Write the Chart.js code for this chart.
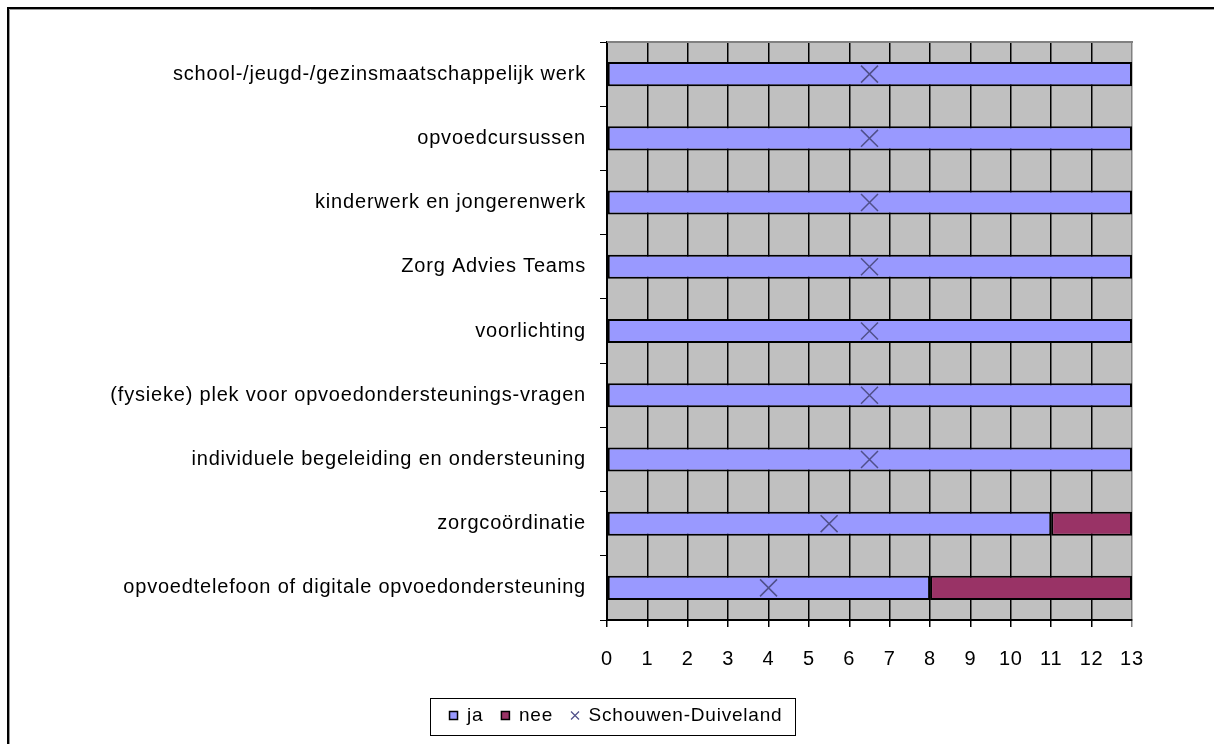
<!DOCTYPE html>
<html>
<head>
<meta charset="utf-8">
<script src="https://cdn.jsdelivr.net/npm/chart.js@4/dist/chart.umd.min.js"></script>
<style>
  html, body { margin: 0; padding: 0; background: #fff; }
  #wrap { width: 1214px; height: 744px; }
</style>
</head>
<body>
<div id="wrap"><canvas id="myChart" width="1214" height="744"></canvas></div>
<script>
// categorieën (van boven naar beneden)
const categories = [
  'school-/jeugd-/gezinsmaatschappelijk werk',
  'opvoedcursussen',
  'kinderwerk en jongerenwerk',
  'Zorg Advies Teams',
  'voorlichting',
  '(fysieke) plek voor opvoedondersteunings-vragen',
  'individuele begeleiding en ondersteuning',
  'zorgcoördinatie',
  'opvoedtelefoon of digitale opvoedondersteuning'
];
const jaValues = [13, 13, 13, 13, 13, 13, 13, 11, 8];
const neeValues = [0, 0, 0, 0, 0, 0, 0, 2, 5];
const schouwenValues = [6.5, 6.5, 6.5, 6.5, 6.5, 6.5, 6.5, 5.5, 4];
const xTickLabels = ['0','1','2','3','4','5','6','7','8','9','10','11','12','13'];

const FONT = "'Liberation Sans', Arial, sans-serif";
const MARKER = '#50508a';

// letter spacing zoals in het origineel (Excel rendering)
const spacingPlugin = {
  id: 'spacing',
  beforeUpdate(chart) { chart.ctx.letterSpacing = '0.8px'; },
  beforeDraw(chart) { chart.ctx.letterSpacing = '0.8px'; }
};

// grijze achtergrond van het plotgebied + kaders
const framePlugin = {
  id: 'frame',
  beforeDraw(chart) {
    const { ctx, chartArea: a } = chart;
    ctx.save();
    ctx.fillStyle = '#C0C0C0';
    ctx.fillRect(a.left, a.top, a.right - a.left, a.bottom - a.top);
    ctx.restore();
  },
  afterDraw(chart) {
    const { ctx, chartArea: a, legend } = chart;
    ctx.save();
    // bovenrand plotgebied
    ctx.strokeStyle = '#808080';
    ctx.lineWidth = 2;
    ctx.beginPath();
    ctx.moveTo(a.left, a.top);
    ctx.lineTo(a.right + 1, a.top);
    ctx.stroke();
    // kader legenda
    const boxes = legend.legendHitBoxes;
    if (boxes && boxes.length) {
      const first = boxes[0], last = boxes[boxes.length - 1];
      const cy = first.top + first.height / 2;
      ctx.strokeStyle = '#000';
      ctx.lineWidth = 1;
      ctx.strokeRect(Math.round(first.left - 20) + 0.5, Math.round(cy - 18) + 0.5,
        Math.round(last.left + last.width - first.left + 32), 37);
    }
    // buitenkader
    ctx.strokeStyle = '#000';
    ctx.lineWidth = 2;
    ctx.beginPath();
    ctx.moveTo(8, 744);
    ctx.lineTo(8, 8);
    ctx.lineTo(1214, 8);
    ctx.stroke();
    ctx.strokeStyle = '#999';
    ctx.lineWidth = 1;
    ctx.beginPath();
    ctx.moveTo(9.5, 744);
    ctx.lineTo(9.5, 9.5);
    ctx.lineTo(1214, 9.5);
    ctx.stroke();
    ctx.restore();
  }
};

const ctx = document.getElementById('myChart').getContext('2d');
new Chart(ctx, {
  type: 'bar',
  data: {
    labels: categories,
    datasets: [
      {
        label: 'ja',
        data: jaValues,
        backgroundColor: '#9999FF',
        borderColor: '#000',
        borderWidth: 2,
        borderSkipped: false,
        barPercentage: 0.375,
        categoryPercentage: 1,
        stack: 'a',
        order: 1
      },
      {
        label: 'nee',
        data: neeValues,
        backgroundColor: '#993366',
        borderColor: '#000',
        borderWidth: 2,
        borderSkipped: false,
        barPercentage: 0.375,
        categoryPercentage: 1,
        stack: 'a',
        order: 1
      },
      {
        type: 'line',
        label: 'Schouwen-Duiveland',
        data: schouwenValues,
        indexAxis: 'y',
        showLine: false,
        pointStyle: 'crossRot',
        pointRadius: 12,
        pointBorderWidth: 1.5,
        pointBorderColor: MARKER,
        pointBackgroundColor: MARKER,
        borderColor: MARKER,
        backgroundColor: MARKER,
        stack: 'marker',
        order: 0
      }
    ]
  },
  options: {
    indexAxis: 'y',
    responsive: false,
    animation: false,
    events: [],
    layout: { padding: { top: 42, right: 82, left: 100, bottom: 9 } },
    scales: {
      x: {
        stacked: true,
        min: 0,
        max: 13,
        afterFit: s => { s.height = 68; },
        ticks: {
          stepSize: 1,
          autoSkip: false,
          maxRotation: 0,
          color: '#000',
          padding: 20,
          font: { family: FONT, size: 20 },
          callback: (v, i) => xTickLabels[i]
        },
        grid: {
          color: c => (c.tick && c.tick.value === 13 ? '#808080' : '#000'),
          lineWidth: 1.5,
          tickLength: 7
        },
        border: { color: '#000', width: 2 }
      },
      y: {
        stacked: true,
        afterFit: s => { s.width = 507; },
        ticks: {
          color: '#000',
          padding: 14,
          font: { family: FONT, size: 20 }
        },
        grid: {
          offset: true,
          drawOnChartArea: false,
          color: '#000',
          tickLength: 7
        },
        border: { color: '#000', width: 2 }
      }
    },
    plugins: {
      tooltip: { enabled: false },
      legend: {
        position: 'bottom',
        labels: {
          color: '#000',
          font: { family: FONT, size: 19 },
          boxWidth: 8,
          boxHeight: 8,
          usePointStyle: true,
          padding: 18,
          sort: (a, b) => a.datasetIndex - b.datasetIndex,
          generateLabels: chart => {
            const items = Chart.defaults.plugins.legend.labels.generateLabels(chart);
            items.forEach(it => {
              if (it.datasetIndex === 2) {
                it.pointStyle = 'crossRot';
                it.strokeStyle = MARKER;
                it.lineWidth = 1.2;
              } else {
                it.pointStyle = 'rect';
                it.strokeStyle = '#000';
                it.lineWidth = 1.5;
              }
            });
            return items;
          }
        }
      }
    }
  },
  plugins: [spacingPlugin, framePlugin]
});
</script>
</body>
</html>
